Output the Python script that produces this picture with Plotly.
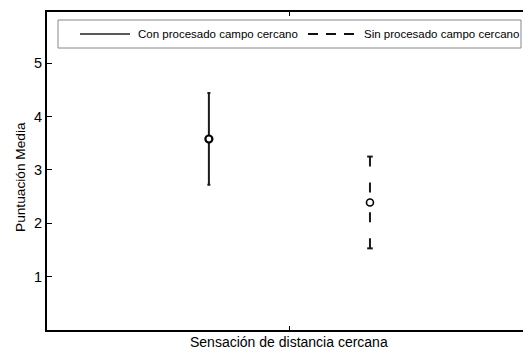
import plotly.graph_objects as go

# ---- data ----
category = "Sensación de distancia cercana"
series_names = ["Con procesado campo cercano", "Sin procesado campo cercano"]
means = [3.58, 2.39]
errors = [0.86, 0.86]
y_ticks = [1, 2, 3, 4, 5]
y_title = "Puntuación Media"

FONT = "Liberation Sans, Arial, sans-serif"
W, H = 523, 354
L, R, T, B = 47, 0, 12, 24
PW, PH = W - L - R, H - T - B

def px(xp):
    return (xp - L) / PW

def py(yp):
    return (H - B - yp) / PH

offsets = [-1, 1]  # group offsets around the single category
fig = go.Figure()

# Series 1: solid error bar
fig.add_trace(go.Scatter(
    x=[offsets[0]], y=[means[0]], mode="markers",
    marker=dict(symbol="circle", size=7, color="white", line=dict(color="black", width=2.2)),
    error_y=dict(type="data", array=[errors[0]], visible=True, color="#1a1a1a", thickness=2, width=1.5),
    showlegend=False, cliponaxis=False,
))

# Series 2: dashed error bar, drawn from each end toward the mean
for sign in (1, -1):
    end = means[1] + sign * errors[1]
    fig.add_trace(go.Scatter(
        x=[offsets[1], offsets[1]], y=[end, means[1]], mode="lines",
        line=dict(color="#1a1a1a", width=2, dash="10px,16px"),
        showlegend=False, hoverinfo="skip",
    ))
fig.add_trace(go.Scatter(
    x=[offsets[1], offsets[1]], y=[means[1] + errors[1], means[1] - errors[1]], mode="markers",
    marker=dict(symbol="line-ew", size=4, line=dict(color="#1a1a1a", width=2)),
    showlegend=False, hoverinfo="skip",
))
fig.add_trace(go.Scatter(
    x=[offsets[1]], y=[means[1]], mode="markers",
    marker=dict(symbol="circle", size=7, color="white", line=dict(color="black", width=1.6)),
    showlegend=False,
))

# ---- manual legend ----
shapes = [
    dict(type="rect", xref="paper", yref="paper", x0=px(58), x1=px(521), y0=py(48), y1=py(20),
         line=dict(color="#888888", width=1), fillcolor="white", layer="above"),
    dict(type="line", xref="paper", yref="paper", x0=px(80), x1=px(130), y0=py(34), y1=py(34),
         line=dict(color="#222222", width=1.3), layer="above"),
    dict(type="line", xref="paper", yref="paper", x0=px(308), x1=px(356), y0=py(34), y1=py(34),
         line=dict(color="#111111", width=2, dash="10px,8px"), layer="above"),
]
annotations = [
    dict(text=series_names[0], xref="paper", yref="paper", x=px(136), y=py(34), xanchor="left",
         yanchor="middle", showarrow=False, font=dict(family=FONT, size=11.5, color="black")),
    dict(text=series_names[1], xref="paper", yref="paper", x=px(362), y=py(34), xanchor="left",
         yanchor="middle", showarrow=False, font=dict(family=FONT, size=11.5, color="black")),
    dict(text=category, xref="x", yref="paper", x=0, y=py(342), xanchor="center", yanchor="middle",
         showarrow=False, font=dict(family=FONT, size=14, color="black")),
    dict(text=y_title, xref="paper", yref="paper", x=px(20), y=py(177), xanchor="center",
         yanchor="middle", textangle=-90, showarrow=False, font=dict(family=FONT, size=13.7, color="black")),
]

fig.update_layout(
    width=W, height=H, margin=dict(l=L, r=R, t=T, b=B, pad=0),
    paper_bgcolor="white", plot_bgcolor="white",
    shapes=shapes, annotations=annotations,
    font=dict(family=FONT, size=14, color="black"),
    xaxis=dict(range=[-3.01, 2.90], tickvals=[0], ticktext=[""], ticks="inside", ticklen=4,
               tickwidth=1, tickcolor="black", showline=True, linewidth=2, linecolor="black",
               mirror="ticks", showgrid=False, zeroline=False, fixedrange=True),
    yaxis=dict(range=[0, 5.96], tickvals=y_ticks, ticks="inside", ticklen=5, tickwidth=1,
               tickcolor="black", showline=True, linewidth=2, linecolor="black", mirror=False,
               showgrid=False, zeroline=False, tickfont=dict(family=FONT, size=14.5, color="black"),
               fixedrange=True),
    showlegend=False,
)

fig.write_html("out.html")
